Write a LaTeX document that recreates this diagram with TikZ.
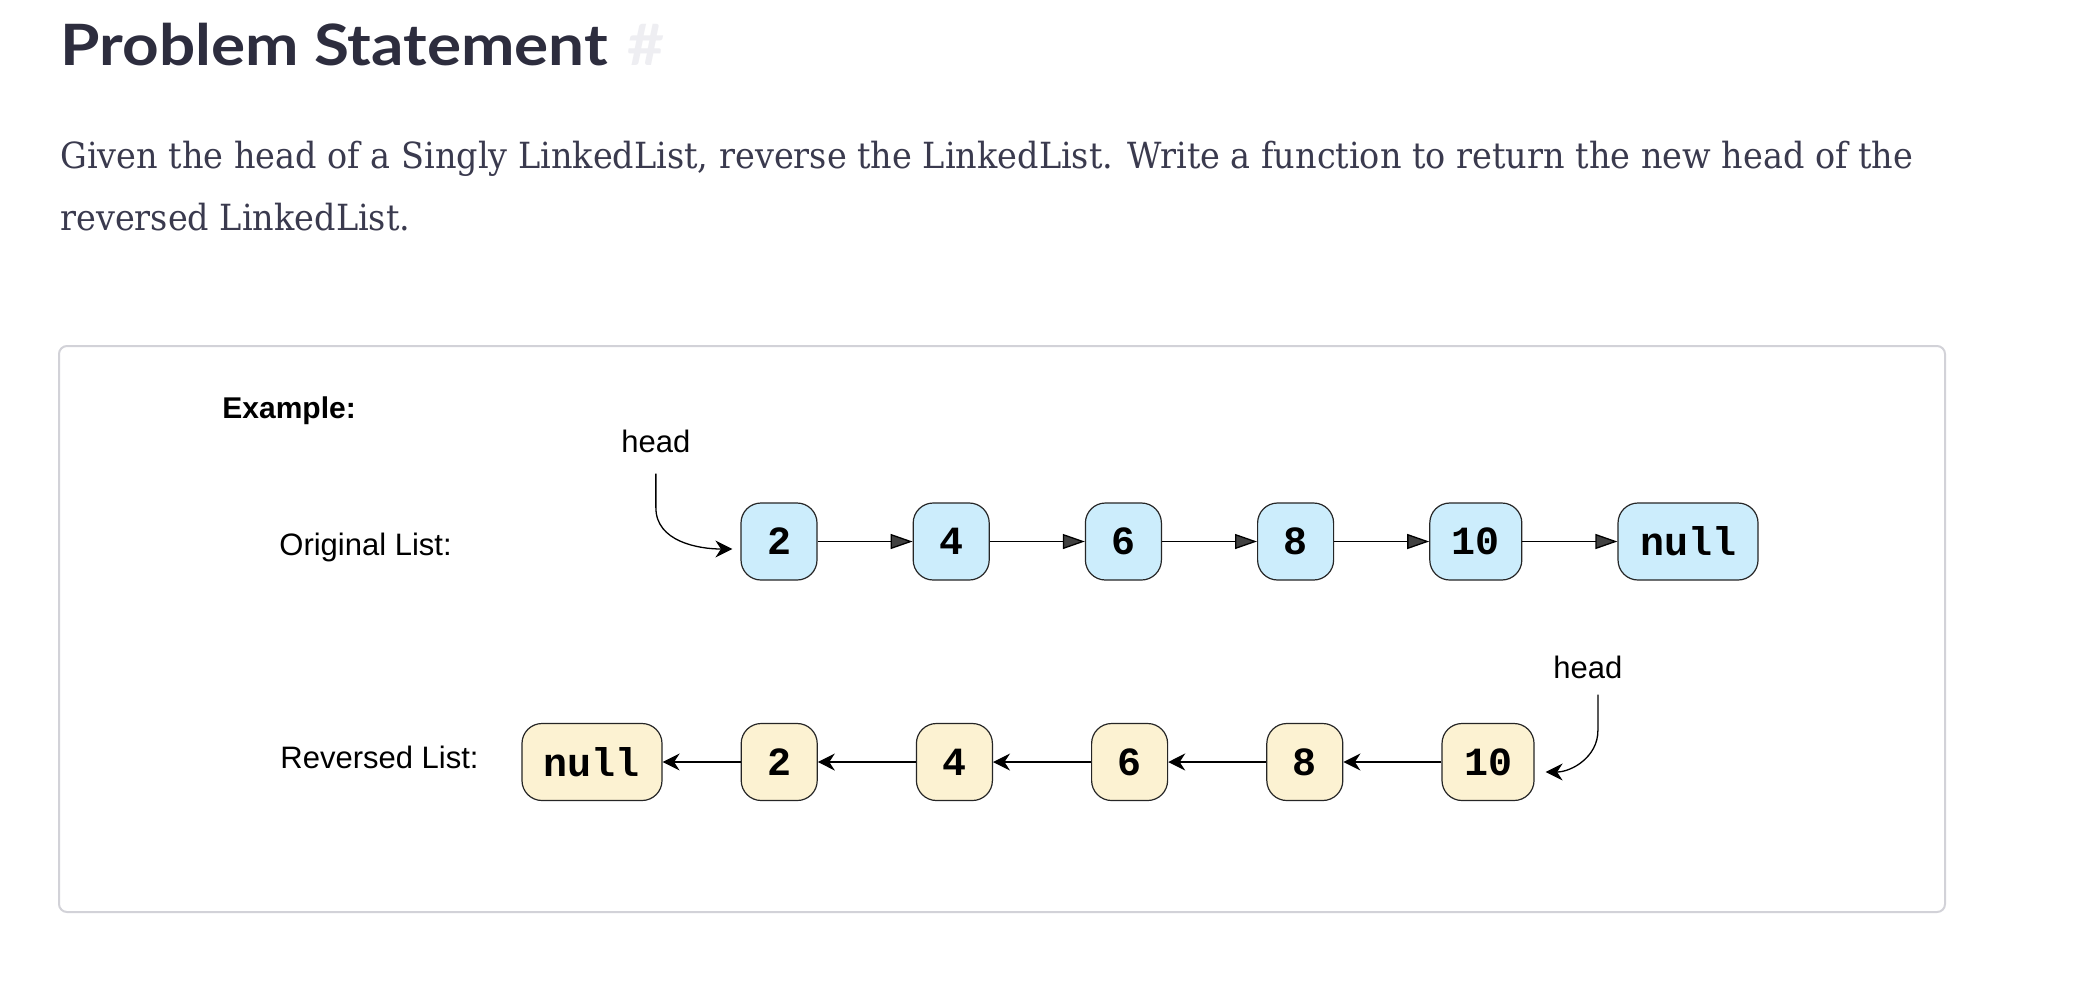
\documentclass[tikz,border=0pt]{standalone}
\usepackage{fontspec}
\usepackage{xcolor}
\usepackage{tikz}
\usetikzlibrary{arrows.meta, positioning}
\setmainfont{Liberation Sans}
\newfontfamily\titlefont[FakeStretch=1.12]{Lato}
\newfontfamily\bodyfont[FakeStretch=0.93]{DejaVu Serif}
\newfontfamily\codefont{Liberation Mono}
\definecolor{titlegray}{RGB}{45,45,62}
\definecolor{bodygray}{RGB}{58,58,78}
\definecolor{boxgray}{RGB}{210,210,216}
\definecolor{hashgray}{RGB}{238,238,242}
\definecolor{nodeblue}{RGB}{204,237,252}
\definecolor{nodeyellow}{RGB}{252,242,210}
\tikzstyle{listnode}  = [draw=black!85, line width=0.6pt, rounded corners=10pt, minimum width=38pt, minimum height=38.5pt, inner xsep=11pt, font=\codefont\bfseries\fontsize{20}{20}\selectfont]
\tikzstyle{topnode}   = [listnode, fill=nodeblue]
\tikzstyle{botnode}   = [listnode, fill=nodeyellow]
\tikzstyle{nextarrow} = [line width=0.65pt, -{Triangle[length=11pt, width=7.5pt, fill=black!75]}]
\tikzstyle{backarrow} = [line width=0.65pt, -{Stealth[length=8.5pt, width=8.5pt]}]
\tikzstyle{sidetext}  = [anchor=base west, inner sep=0pt, font=\fontsize{15.5}{18}\selectfont]
\tikzstyle{bodytext}  = [anchor=base west, inner sep=0pt, text=bodygray, font=\bodyfont\fontsize{18}{31}\selectfont]

\begin{document}
\begin{tikzpicture}[x=0.5pt, y=0.5pt]
  \useasboundingbox (0,0) rectangle (2098,-982);
  \fill[white] (0,0) rectangle (2098,-982);

  % Heading and statement
  \node[anchor=base west, inner sep=0pt, text=titlegray, font=\titlefont\bfseries\fontsize{28.5}{30}\selectfont] (title) at (60,-65) {Problem Statement};
  \node[anchor=base west, inner sep=0pt, text=hashgray, font=\titlefont\bfseries\fontsize{28.5}{30}\selectfont] (hash) at (627,-65) {\#};
  \node[bodytext] (para1) at (60,-168) {Given the head of a Singly LinkedList, reverse the LinkedList. Write a function to return the new head of the};
  \node[bodytext] (para2) at (60,-230) {reversed LinkedList.};

  % Example frame
  \draw[boxgray, line width=1pt, rounded corners=4pt] (59,-346) rectangle (1945,-912);
  \node[sidetext, font=\bfseries\fontsize{15}{18}\selectfont] (example) at (222,-418) {Example:};

  % Original list
  \node[sidetext] (origlbl) at (279,-555) {Original List:};
  \node[topnode] (o2) at (779,-541.5) {2};
  \node[topnode, right=47.5pt of o2] (o4) {4};
  \node[topnode, right=47.5pt of o4] (o6) {6};
  \node[topnode, right=47.5pt of o6] (o8) {8};
  \node[topnode, right=47.5pt of o8] (o10) {10};
  \node[topnode, right=47.5pt of o10] (onull) {null};
  \foreach \a/\b in {o2/o4, o4/o6, o6/o8, o8/o10, o10/onull}
      \draw[nextarrow] (\a) -- (\b);
  \node[sidetext] (h1) at (621,-452) {head};
  \draw[backarrow] ([yshift=-10.5pt]h1.south) -- ++(0,-34) to[out=-90, in=180] ([xshift=-4pt, yshift=-3.75pt]o2.west);

  % Reversed list
  \node[sidetext] (revlbl) at (280,-768) {Reversed List:};
  \node[botnode] (rnull) at (592,-762) {null};
  \node[botnode, right=39pt of rnull] (r2) {2};
  \node[botnode, right=49pt of r2] (r4) {4};
  \node[botnode, right=49pt of r4] (r6) {6};
  \node[botnode, right=49pt of r6] (r8) {8};
  \node[botnode, right=49pt of r8] (r10) {10};
  \foreach \a/\b in {r2/rnull, r4/r2, r6/r4, r8/r6, r10/r8}
      \draw[backarrow] (\a) -- (\b);
  \node[sidetext] (h2) at (1553,-678) {head};
  \draw[backarrow] ([xshift=5pt, yshift=-8pt]h2.south) -- ++(0,-36) to[out=-90, in=0] ([xshift=5.5pt, yshift=-5pt]r10.east);
\end{tikzpicture}
\end{document}
